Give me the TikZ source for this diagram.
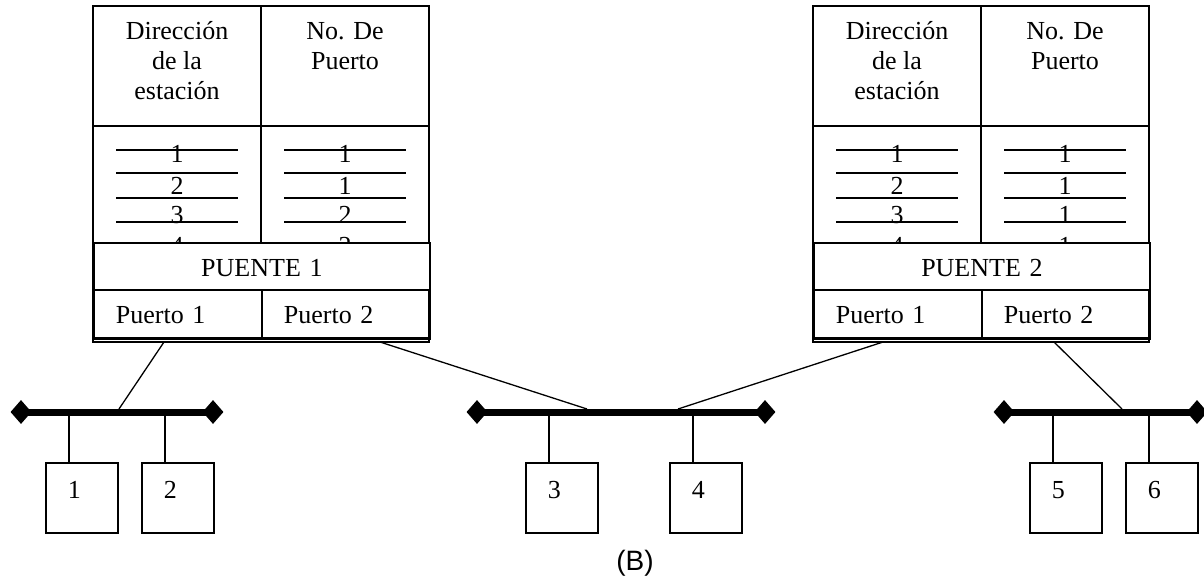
\documentclass[tikz,border=0pt]{standalone}
\usepackage{fontspec}
\setmainfont{Liberation Serif}
\newfontfamily\captionsans{Liberation Sans}
\usetikzlibrary{shapes.geometric}

% one learning bridge: #1 name prefix, #2 x offset, #3 label, #4..#7 port column
\newcommand\puentebox[7]{%
  \begin{scope}[xshift=#2]
    % station address rows (the last row runs under the bridge band)
    \foreach \yy in {150,173,198,222}{
      \draw[rule] (116,\yy) -- (238,\yy);
      \draw[rule] (284,\yy) -- (406,\yy);
    }
    \node[txt] (#1a1) at (177,163) {1};
    \node[txt] (#1a2) at (177,195) {2};
    \node[txt] (#1a3) at (177,223) {3};
    \node[txt] (#1a4) at (177,254) {4};
    \node[txt] (#1n1) at (345,163) {#4};
    \node[txt] (#1n2) at (345,195) {#5};
    \node[txt] (#1n3) at (345,223) {#6};
    \node[txt] (#1n4) at (345,254) {#7};
    % frame, header and column divider
    \draw[frame] (93,6) rectangle (429,342);
    \draw[frame] (93,126) -- (429,126);
    \draw[frame] (261,6) -- (261,242);
    % multi-line nodes: the base anchor sits on the last line
    \node[txt, align=center] (#1h1) at (177,100) {Dirección\\de la\\estación};
    \node[txt, align=center] (#1h2) at (345,70) {No. De\\Puerto};
    % bridge band
    \node[band] (#1band) at (93,242) {#3};
    % ports
    \node[port] (#1p1) at (93,289) {Puerto 1};
    \node[port] (#1p2) at (261,289) {Puerto 2};
  \end{scope}}

\begin{document}
\begin{tikzpicture}[x=1pt, y=-1pt,
    frame/.style={line width=1.8pt},
    rule/.style={line width=1.8pt},
    link/.style={line width=1.3pt},
    drop/.style={line width=1.8pt},
    bus/.style={line width=7pt},
    txtfont/.style={font=\fontsize{26}{30}\selectfont},
    txt/.style={anchor=base, inner sep=0pt, txtfont},
    band/.style={draw, line width=1.8pt, fill=white, anchor=north west,
      inner xsep=0pt, inner ysep=0pt, text width=336pt, align=center,
      text height=34pt, text depth=13pt, txtfont},
    port/.style={draw, line width=1.8pt, anchor=north west,
      inner xsep=22pt, inner ysep=0pt, text width=124pt, align=left,
      text height=34pt, text depth=15pt, txtfont},
    station/.style={draw, line width=1.8pt, anchor=north west,
      inner xsep=22pt, inner ysep=0pt, text width=28pt, align=left,
      text height=36pt, text depth=34pt, txtfont},
    term/.style={diamond, fill=black, inner sep=0pt,
      minimum width=21pt, minimum height=24pt},
  ]
  \useasboundingbox (0,0) rectangle (1204,580);

  % the two bridges with their tables
  \puentebox{b1}{0pt}{PUENTE 1}{1}{1}{2}{2}
  \puentebox{b2}{720pt}{PUENTE 2}{1}{1}{1}{1}
  \draw[frame] (93,338) -- (429,338);
  \draw[frame] (813,338) -- (1149,338);

  % LAN segments
  \node[term] (bus1w) at (21,412) {};
  \node[term] (bus1e) at (213,412) {};
  \node[term] (bus2w) at (477,412) {};
  \node[term] (bus2e) at (765,412) {};
  \node[term] (bus3w) at (1004,412) {};
  \node[term] (bus3e) at (1197,412) {};
  \draw[bus] (bus1w.center) -- (bus1e.center);
  \draw[bus] (bus2w.center) -- (bus2e.center);
  \draw[bus] (bus3w.center) -- (bus3e.center);

  % stations
  \node[station] (s1) at (45,462) {1};
  \node[station] (s2) at (141,462) {2};
  \node[station] (s3) at (525,462) {3};
  \node[station] (s4) at (669,462) {4};
  \node[station] (s5) at (1029,462) {5};
  \node[station] (s6) at (1125,462) {6};
  \foreach \s/\b in {s1/bus1w, s2/bus1w, s3/bus2w, s4/bus2w, s5/bus3w, s6/bus3w}
    \draw[drop] ([xshift=24pt]\s.north west) -- ([xshift=24pt]\s.north west |- \b.center);

  % bridge ports to segments
  \coordinate (l1a) at (164,342);  \coordinate (l1b) at (119,409);
  \coordinate (l2a) at (380,342);  \coordinate (l2b) at (587,409);
  \coordinate (l3a) at (883,342);  \coordinate (l3b) at (678,409);
  \coordinate (l4a) at (1054,342); \coordinate (l4b) at (1122,409);
  \draw[link] (l1a) -- (l1b);
  \draw[link] (l2a) -- (l2b);
  \draw[link] (l3a) -- (l3b);
  \draw[link] (l4a) -- (l4b);

  \node[anchor=base, inner sep=0pt, font=\captionsans\fontsize{28}{30}\selectfont]
    (cap) at (635,570) {(B)};
\end{tikzpicture}
\end{document}
